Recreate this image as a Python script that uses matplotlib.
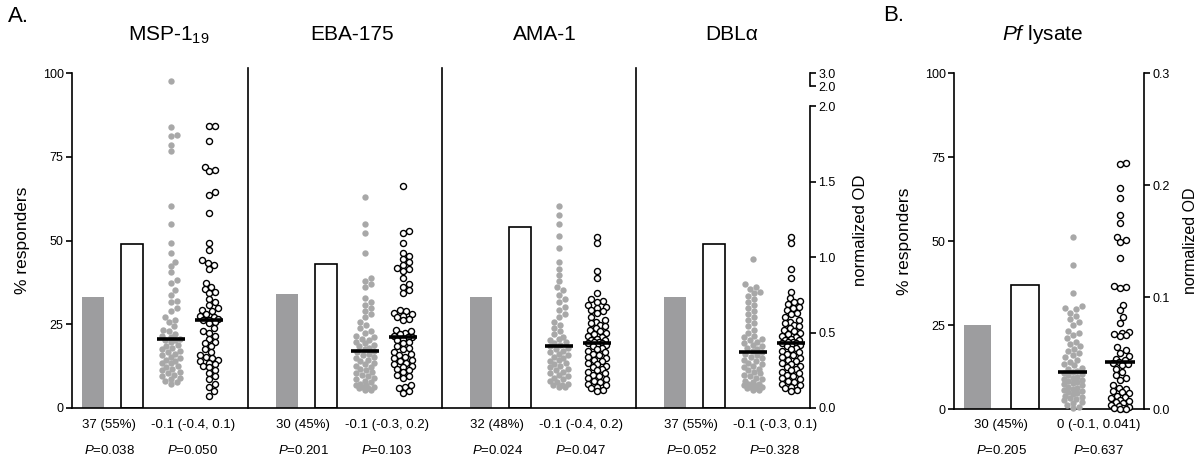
import numpy as np
import matplotlib
matplotlib.use('Agg')
import matplotlib.pyplot as plt
from matplotlib import transforms

plt.rcParams['font.family'] = ['Liberation Sans', 'DejaVu Sans']
plt.rcParams['mathtext.fontset'] = 'custom'
plt.rcParams['mathtext.rm'] = 'Liberation Sans'
plt.rcParams['mathtext.it'] = 'Liberation Sans:italic'

# ---- data (panel A: % responders bars, normalized OD dots) ----
antigens = ['MSP-1$_{19}$', 'EBA-175', 'AMA-1', 'DBL\u03b1']
grey_pct = [33, 34, 33, 33]
open_pct = [49, 43, 54, 49]
count_txt = ['37 (55%)', '30 (45%)', '32 (48%)', '37 (55%)']
diff_txt = ['-0.1 (-0.4, 0.1)', '-0.1 (-0.3, 0.2)', '-0.1 (-0.4, 0.2)', '-0.1 (-0.3, 0.1)']
p_bar = ['0.038', '0.201', '0.024', '0.052']
p_od = ['0.050', '0.103', '0.047', '0.328']

msp_grey = [2.4, 1.86, 1.81, 1.80, 1.74, 1.70, 1.34, 1.22, 1.09, 1.03,
            0.97, 0.94, 0.90, 0.85, 0.83, 0.78, 0.75, 0.71, 0.70, 0.66,
            0.64, 0.60, 0.58, 0.57, 0.54, 0.52, 0.51, 0.49, 0.48, 0.47,
            0.46, 0.45, 0.45, 0.44, 0.42, 0.41, 0.40, 0.39, 0.38, 0.37,
            0.36, 0.35, 0.34, 0.33, 0.32, 0.31, 0.30, 0.30, 0.28, 0.27,
            0.26, 0.25, 0.24, 0.23, 0.22, 0.21, 0.20, 0.19, 0.18, 0.17, 0.16]
msp_open = [1.87, 1.87, 1.77, 1.60, 1.58, 1.57, 1.43, 1.41, 1.29, 1.09,
            1.05, 0.98, 0.96, 0.95, 0.92, 0.83, 0.80, 0.79, 0.77, 0.76,
            0.72, 0.70, 0.68, 0.66, 0.65, 0.64, 0.62, 0.61, 0.60, 0.59,
            0.585, 0.58, 0.57, 0.56, 0.53, 0.51, 0.50, 0.48, 0.46, 0.44,
            0.43, 0.41, 0.39, 0.37, 0.35, 0.34, 0.33, 0.32, 0.31, 0.30,
            0.29, 0.28, 0.27, 0.25, 0.23, 0.21, 0.19, 0.16, 0.14, 0.11, 0.08]
eba_grey = [1.40, 1.22, 1.16, 1.03, 0.86, 0.84, 0.82, 0.80, 0.73, 0.70,
            0.68, 0.66, 0.64, 0.62, 0.60, 0.57, 0.55, 0.53, 0.51, 0.50,
            0.48, 0.47, 0.46, 0.45, 0.44, 0.43, 0.42, 0.41, 0.40, 0.39,
            0.38, 0.37, 0.36, 0.35, 0.34, 0.33, 0.32, 0.31, 0.30, 0.29,
            0.28, 0.27, 0.26, 0.25, 0.24, 0.23, 0.22, 0.21, 0.20, 0.19,
            0.18, 0.17, 0.16, 0.15, 0.15, 0.14, 0.14, 0.13, 0.13, 0.12, 0.12]
eba_open = [1.47, 1.17, 1.16, 1.09, 1.03, 1.01, 0.99, 0.97, 0.95, 0.93,
            0.92, 0.91, 0.86, 0.82, 0.80, 0.78, 0.76, 0.65, 0.64, 0.63,
            0.62, 0.61, 0.60, 0.59, 0.58, 0.52, 0.51, 0.50, 0.49, 0.48,
            0.47, 0.47, 0.46, 0.45, 0.44, 0.43, 0.41, 0.40, 0.39, 0.37,
            0.36, 0.35, 0.34, 0.33, 0.32, 0.31, 0.30, 0.29, 0.28, 0.27,
            0.26, 0.25, 0.24, 0.22, 0.21, 0.20, 0.15, 0.14, 0.13, 0.11, 0.10]
ama_grey = [1.34, 1.28, 1.22, 1.14, 1.06, 0.97, 0.92, 0.88, 0.84, 0.80,
            0.78, 0.75, 0.72, 0.70, 0.67, 0.65, 0.62, 0.60, 0.57, 0.55,
            0.53, 0.51, 0.49, 0.47, 0.46, 0.45, 0.44, 0.43, 0.42, 0.41,
            0.40, 0.39, 0.38, 0.37, 0.36, 0.35, 0.34, 0.33, 0.32, 0.31,
            0.30, 0.29, 0.28, 0.27, 0.26, 0.25, 0.24, 0.23, 0.22, 0.21,
            0.20, 0.19, 0.18, 0.17, 0.16, 0.15, 0.15, 0.14, 0.14]
ama_open = [1.13, 1.09, 0.91, 0.86, 0.76, 0.72, 0.71, 0.70, 0.68, 0.67,
            0.66, 0.65, 0.64, 0.63, 0.60, 0.58, 0.57, 0.56, 0.55, 0.54,
            0.53, 0.52, 0.51, 0.50, 0.49, 0.48, 0.47, 0.46, 0.45, 0.45,
            0.44, 0.44, 0.43, 0.43, 0.42, 0.42, 0.41, 0.40, 0.39, 0.38,
            0.37, 0.36, 0.35, 0.34, 0.33, 0.32, 0.31, 0.30, 0.29, 0.28,
            0.27, 0.26, 0.25, 0.24, 0.23, 0.22, 0.21, 0.20, 0.19, 0.18,
            0.17, 0.16, 0.15, 0.14, 0.13, 0.12, 0.11]
dbl_grey = [0.99, 0.82, 0.80, 0.79, 0.77, 0.76, 0.74, 0.72, 0.70, 0.68,
            0.66, 0.64, 0.62, 0.60, 0.58, 0.56, 0.54, 0.52, 0.50, 0.48,
            0.47, 0.46, 0.45, 0.44, 0.43, 0.42, 0.41, 0.40, 0.39, 0.38,
            0.37, 0.36, 0.35, 0.34, 0.33, 0.32, 0.31, 0.30, 0.29, 0.28,
            0.27, 0.26, 0.25, 0.24, 0.23, 0.22, 0.21, 0.20, 0.19, 0.18,
            0.17, 0.16, 0.16, 0.15, 0.15, 0.14, 0.14, 0.13, 0.13, 0.12, 0.12]
dbl_open = [1.13, 1.09, 0.92, 0.86, 0.77, 0.73, 0.71, 0.70, 0.69, 0.67,
            0.66, 0.65, 0.63, 0.62, 0.60, 0.58, 0.57, 0.56, 0.55, 0.54,
            0.53, 0.52, 0.51, 0.50, 0.49, 0.48, 0.47, 0.46, 0.45, 0.45,
            0.44, 0.44, 0.43, 0.43, 0.42, 0.42, 0.41, 0.40, 0.39, 0.38,
            0.37, 0.36, 0.35, 0.34, 0.33, 0.32, 0.31, 0.30, 0.29, 0.28,
            0.27, 0.26, 0.25, 0.24, 0.23, 0.22, 0.21, 0.20, 0.19, 0.18,
            0.17, 0.16, 0.15, 0.14, 0.13, 0.12, 0.11]
grey_od = [msp_grey, eba_grey, ama_grey, dbl_grey]
open_od = [msp_open, eba_open, ama_open, dbl_open]

# ---- panel B: Pf lysate ----
pf_pct = [25, 37]
pf_grey = [0.154, 0.129, 0.104, 0.092, 0.090, 0.089, 0.086, 0.083, 0.080, 0.078,
           0.075, 0.070, 0.068, 0.066, 0.063, 0.060, 0.058, 0.056, 0.054, 0.052,
           0.050, 0.048, 0.046, 0.044, 0.042, 0.040, 0.039, 0.037, 0.036, 0.034,
           0.033, 0.032, 0.031, 0.030, 0.029, 0.028, 0.027, 0.026, 0.025, 0.024,
           0.023, 0.022, 0.021, 0.020, 0.019, 0.018, 0.017, 0.016, 0.015, 0.014,
           0.013, 0.012, 0.011, 0.010, 0.009, 0.008, 0.006, 0.005, 0.004, 0.002, 0.001]
pf_open = [0.220, 0.219, 0.197, 0.188, 0.173, 0.166, 0.154, 0.151, 0.149, 0.135,
           0.110, 0.109, 0.108, 0.093, 0.088, 0.082, 0.077, 0.069, 0.068, 0.067,
           0.066, 0.065, 0.055, 0.053, 0.050, 0.047, 0.045, 0.044,
           0.042,
           0.041, 0.040, 0.039, 0.036, 0.033, 0.030, 0.028, 0.026, 0.021, 0.019,
           0.018, 0.016, 0.015, 0.014, 0.012, 0.011, 0.010, 0.008, 0.007, 0.006,
           0.005, 0.004, 0.003, 0.002, 0.001, 0.001, 0.000, 0.000]
pf_count = '30 (45%)'
pf_diff = '0 (-0.1, 0.041)'
pf_p = ['0.205', '0.637']

GREY_BAR = '#9d9d9f'
GREY_DOT = '#a8a8a8'
LW = 1.2
W, H = 1200, 458


def swarm_x(ax, x0, vals, d=6.0, half=9.0):
    # beeswarm within a fixed width; points may overlap when the column is crowded
    pts = ax.transData.transform(np.column_stack([np.full(len(vals), x0), vals]))
    order = np.argsort(pts[:, 1])
    offs = [0.0]
    k = 1.5
    while k <= half + 1e-9:
        offs += [k, -k]
        k += 1.5
    placed = []
    xs = np.empty(len(vals))
    for i in order:
        px, py = pts[i]
        best, best_d = px, -1.0
        for off in offs:
            cand = px + off
            if placed:
                q = np.array(placed)
                mind = np.sqrt(((q[:, 0] - cand) ** 2 + (q[:, 1] - py) ** 2).min())
            else:
                mind = np.inf
            if mind >= d:
                best = cand
                break
            if mind > best_d + 0.3:
                best, best_d = cand, mind
        placed.append((best, py))
        xs[i] = best
    return ax.transData.inverted().transform(np.column_stack([xs, pts[:, 1]]))[:, 0]


def od_fwd(v):
    v = np.asarray(v, dtype=float)
    return np.where(v <= 2.0, v, 2.131 + (v - 2.0) * 0.0885)


def od_inv(u):
    u = np.asarray(u, dtype=float)
    return np.where(u <= 2.0, u, np.where(u < 2.131, 2.0, 2.0 + (u - 2.131) / 0.0885))


def style_left(ax):
    ax.set_ylim(0, 100)
    ax.set_yticks([0, 25, 50, 75, 100])
    ax.spines['top'].set_visible(False)
    ax.spines['right'].set_visible(False)
    ax.spines['left'].set_bounds(0, 100)
    for s in ['left', 'bottom']:
        ax.spines[s].set_linewidth(LW)
    ax.tick_params(axis='y', direction='out', length=4, width=LW, labelsize=9, pad=2)
    ax.set_xticks([])
    ax.set_ylabel('% responders', fontsize=12.5)


def style_right(ax2):
    for s in ['top', 'left', 'bottom']:
        ax2.spines[s].set_visible(False)
    ax2.spines['right'].set_linewidth(LW)
    ax2.tick_params(axis='y', direction='out', length=4, width=LW, labelsize=9, pad=2)
    ax2.set_ylabel('normalized OD', fontsize=12)


fig = plt.figure(figsize=(12, 4.58), dpi=100)

# ---------------- panel A ----------------
axA = fig.add_axes([72 / W, (H - 408) / H, (810 - 72) / W, 335 / H])
axA2 = axA.twinx()
axA.set_xlim(-0.541, 18.48)
style_left(axA)
axA.yaxis.set_label_coords(-0.057, 0.5)

axA2.set_yscale('function', functions=(od_fwd, od_inv))
axA2.set_ylim(0, 3.0)
axA2.set_yticks([0, 0.5, 1.0, 1.5, 2.0, 2.0001, 3.0])
axA2.set_yticklabels(['0.0', '0.5', '1.0', '1.5', '2.0', '2.0', '3.0'])
style_right(axA2)
axA2.spines['right'].set_bounds(0, 2.0)
axA2.plot([1, 1], [2.0001, 3.0], transform=axA2.get_yaxis_transform(),
          color='k', lw=LW, clip_on=False)
axA2.yaxis.set_label_coords(1.058, 0.53)

title_x = [1.94, 1.68, 1.65, 1.45]
txA = transforms.blended_transform_factory(axA.transData, fig.transFigure)
for i in range(4):
    b = i * 5
    axA.bar(b, grey_pct[i], width=0.57, color=GREY_BAR, lw=0)
    axA.bar(b + 1, open_pct[i], width=0.57, facecolor='white', edgecolor='k', lw=LW)
    if i < 3:
        axA.plot([b + 4, b + 4], [0, 101.5], color='k', lw=LW, clip_on=False)

    xg = swarm_x(axA2, b + 2, grey_od[i])
    axA2.scatter(xg, grey_od[i], s=21, color=GREY_DOT, lw=0, zorder=3, clip_on=False)
    xo = swarm_x(axA2, b + 3, open_od[i])
    axA2.scatter(xo, open_od[i], s=19, facecolors='white', edgecolors='k',
                 linewidths=1.0, zorder=3, clip_on=False)
    for xc, vals in [(b + 2, grey_od[i]), (b + 3, open_od[i])]:
        m = np.median(vals)
        axA2.plot([xc - 0.36, xc + 0.36], [m, m], color='k', lw=2.6, zorder=4,
                  solid_capstyle='butt')

    fig.text(b + title_x[i], 1 - 35 / H, antigens[i], transform=txA,
             ha='center', va='center', fontsize=15)
    fig.text(b + 0.42, 1 - 425 / H, count_txt[i], transform=txA,
             ha='center', va='center', fontsize=9.5)
    fig.text(b + 2.57, 1 - 425 / H, diff_txt[i], transform=txA,
             ha='center', va='center', fontsize=9.5)
    fig.text(b + 0.42, 1 - 450 / H, '$P$=' + p_bar[i], transform=txA,
             ha='center', va='center', fontsize=9.5)
    fig.text(b + 2.57, 1 - 450 / H, '$P$=' + p_od[i], transform=txA,
             ha='center', va='center', fontsize=9.5)

# ---------------- panel B ----------------
axB = fig.add_axes([954 / W, (H - 409) / H, 190 / W, 336 / H])
axB2 = axB.twinx()
axB.set_xlim(-0.495, 3.505)
style_left(axB)
axB.yaxis.set_label_coords(-0.22, 0.5)

axB2.set_ylim(0, 0.3)
axB2.set_yticks([0.0, 0.1, 0.2, 0.3])
axB2.set_yticklabels(['0.0', '0.1', '0.2', '0.3'])
style_right(axB2)
axB2.yaxis.label.set_fontsize(11.5)
axB2.yaxis.set_label_coords(1.205, 0.5)

axB.bar(0, pf_pct[0], width=0.57, color=GREY_BAR, lw=0)
axB.bar(1, pf_pct[1], width=0.57, facecolor='white', edgecolor='k', lw=LW)
xg = swarm_x(axB2, 2, pf_grey)
axB2.scatter(xg, pf_grey, s=21, color=GREY_DOT, lw=0, zorder=3, clip_on=False)
xo = swarm_x(axB2, 3, pf_open)
axB2.scatter(xo, pf_open, s=19, facecolors='white', edgecolors='k',
             linewidths=1.0, zorder=3, clip_on=False)
for xc, vals in [(2, pf_grey), (3, pf_open)]:
    m = np.median(vals)
    axB2.plot([xc - 0.31, xc + 0.31], [m, m], color='k', lw=2.6, zorder=4,
              solid_capstyle='butt')

txB = transforms.blended_transform_factory(axB.transData, fig.transFigure)
fig.text(1.36, 1 - 35 / H, '$Pf$ lysate', transform=txB, ha='center', va='center', fontsize=15)
fig.text(0.5, 1 - 425 / H, pf_count, transform=txB, ha='center', va='center', fontsize=9.5)
fig.text(2.55, 1 - 425 / H, pf_diff, transform=txB, ha='center', va='center', fontsize=9.5)
fig.text(0.5, 1 - 450 / H, '$P$=' + pf_p[0], transform=txB, ha='center', va='center', fontsize=9.5)
fig.text(2.55, 1 - 450 / H, '$P$=' + pf_p[1], transform=txB, ha='center', va='center', fontsize=9.5)

fig.text(8 / W, 1 - 6 / H, 'A.', ha='left', va='top', fontsize=16)
fig.text(883 / W, 1 - 5 / H, 'B.', ha='left', va='top', fontsize=16)

fig.savefig('out.png', dpi=100)
